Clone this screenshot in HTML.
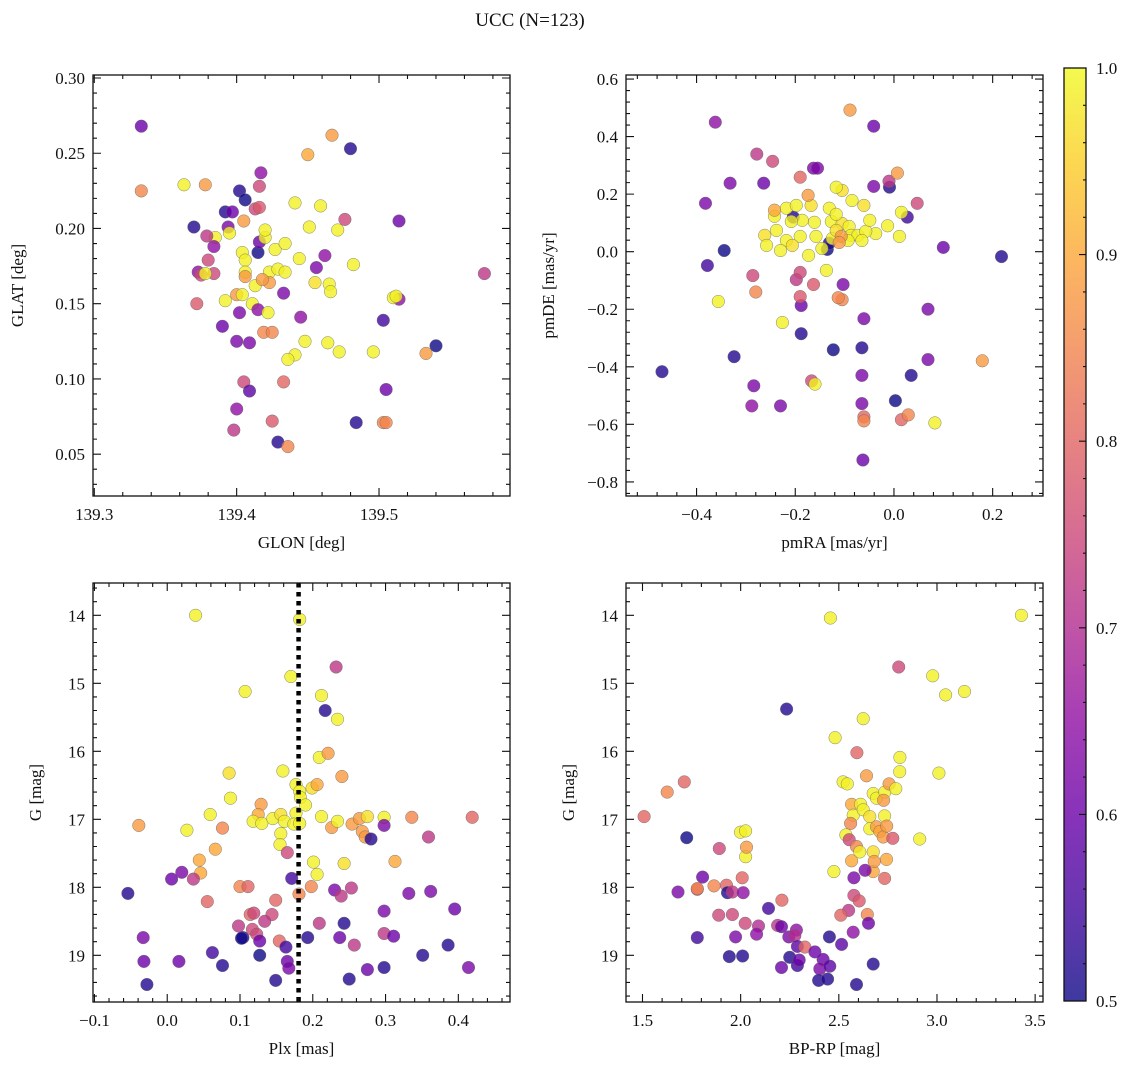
<!DOCTYPE html>
<html><head><meta charset="utf-8"><style>
html,body{margin:0;padding:0;background:#fff;}
svg{display:block;font-family:"Liberation Serif","DejaVu Serif",serif;}
</style></head><body>
<svg id="fig" width="1136" height="1068" viewBox="0 0 1136 1068" xmlns="http://www.w3.org/2000/svg">
<defs><linearGradient id="cbg" x1="0" y1="1" x2="0" y2="0">
<stop offset="0" stop-color="#0d0887"/><stop offset="0.1" stop-color="#41049d"/><stop offset="0.2" stop-color="#6a00a8"/><stop offset="0.3" stop-color="#8f0da4"/><stop offset="0.4" stop-color="#b12a90"/><stop offset="0.5" stop-color="#cc4778"/><stop offset="0.6" stop-color="#e16462"/><stop offset="0.7" stop-color="#f2844b"/><stop offset="0.8" stop-color="#fca636"/><stop offset="0.9" stop-color="#fcce25"/><stop offset="1" stop-color="#f0f921"/>
</linearGradient></defs>
<text x="530" y="26" font-size="19" text-anchor="middle" fill="#111">UCC (N=123)</text>
</svg>
<script>
// ---- Panel 1: GLON vs GLAT ----
const glon=[139.333,139.333,139.363,139.378,139.402,139.406,139.392,139.397,139.370,139.385,
139.394,139.395,139.405,139.413,139.416,139.417,139.416,139.450,139.467,139.480,
139.379,139.380,139.384,139.404,139.406,139.415,139.416,139.420,139.420,139.427,
139.434,139.441,139.451,139.459,139.471,139.462,139.456,139.476,139.482,139.406,
139.406,139.413,139.423,139.429,139.434,139.423,139.418,139.444,139.455,139.465,
139.466,139.373,139.375,139.384,139.378,139.400,139.404,139.411,139.392,139.372,
139.390,139.402,139.415,139.419,139.425,139.433,139.445,139.422,139.448,139.441,
139.436,139.464,139.472,139.496,139.514,139.510,139.512,139.533,139.540,139.574,
139.514,139.505,139.503,139.484,139.503,139.505,139.409,139.400,139.405,139.409,
139.400,139.398,139.425,139.429,139.436,139.433];
const glat=[.268,.225,.229,.229,.225,.219,.211,.211,.201,.194,
.201,.197,.205,.213,.214,.237,.228,.249,.262,.253,
.195,.179,.188,.184,.179,.184,.191,.194,.199,.186,
.190,.217,.201,.215,.199,.182,.174,.206,.176,.171,
.168,.162,.171,.173,.171,.164,.166,.180,.164,.163,
.158,.171,.169,.170,.170,.156,.156,.150,.152,.150,
.135,.144,.146,.131,.131,.157,.141,.144,.125,.116,
.113,.124,.118,.118,.153,.154,.155,.117,.122,.170,
.205,.093,.139,.071,.071,.071,.124,.125,.098,.092,
.080,.066,.072,.058,.055,.098];
const prob1=[.6,.85,.99,.88,.52,.5,.52,.6,.52,.99,
.62,.99,.88,.75,.78,.65,.75,.9,.88,.52,
.72,.75,.65,.99,.99,.5,.6,.99,.99,.99,
.99,.99,.99,.99,.99,.65,.62,.75,.99,.99,
.88,.99,.99,.99,.99,.88,.88,.99,.97,.99,
.99,.65,.75,.75,.99,.88,.99,.99,.99,.78,
.6,.62,.65,.85,.85,.62,.65,.99,.99,.99,
.99,.99,.99,.99,.65,.99,.99,.88,.5,.72,
.6,.6,.55,.52,.85,.85,.62,.62,.75,.58,
.65,.72,.78,.52,.85,.8];
// ---- Panel 2: pmRA vs pmDE ----
const pmra=[-0.362,-0.382,-0.332,-0.264,-0.278,-0.246,-0.089,-0.041,-0.163,-0.155,
-0.19,-0.041,-0.009,-0.01,0.007,0.047,0.027,0.1,0.015,0.011,
-0.013,-0.037,-0.344,-0.378,-0.47,-0.356,-0.324,-0.284,-0.288,-0.23,
-0.226,-0.188,-0.188,-0.123,-0.061,-0.065,-0.065,-0.065,-0.061,-0.061,
-0.063,0.003,0.035,0.015,0.029,0.083,0.069,0.069,0.179,0.218,
-0.105,-0.167,-0.16,-0.286,-0.28,-0.198,-0.19,-0.19,-0.163,-0.135,
-0.103,-0.113,-0.137,-0.204,-0.131,
-0.242,-0.218,-0.198,-0.168,-0.131,-0.127,-0.105,-0.161,-0.186,-0.208,
-0.238,-0.262,-0.258,-0.218,-0.19,-0.158,-0.125,-0.117,-0.091,-0.087,
-0.073,-0.057,-0.049,-0.061,-0.065,-0.093,-0.146,-0.173,-0.206,-0.23,
-0.117,-0.085,-0.105,-0.117,
-0.174,-0.242,-0.107,-0.111];
const pmde=[.45,.168,.238,.238,.339,.314,.492,.436,.29,.29,
.259,.227,.224,.245,.273,.168,.12,.015,.137,.053,
.09,.063,.004,-.048,-.417,-.173,-.365,-.466,-.536,-.536,
-.246,-.285,-.187,-.341,-.233,-.334,-.43,-.528,-.574,-.588,
-.724,-.518,-.43,-.584,-.567,-.595,-.2,-.375,-.379,-.017,
-.167,-.449,-.46,-.083,-.14,-.097,-.156,-.072,-.114,.008,
-.114,-.16,-.065,.12,.03,
.123,.151,.161,.161,.151,.105,.098,.102,.109,.105,
.074,.057,.022,.039,.053,.053,.046,.074,.088,.057,
.057,.071,.109,.161,.039,.039,.011,-.013,.022,.004,
.13,.178,.213,.224,
.196,.144,.053,.032];
const prob2=[.65,.62,.62,.6,.72,.75,.88,.6,.63,.62,
.8,.62,.52,.72,.88,.75,.55,.6,.99,.99,
.99,.99,.5,.55,.52,.99,.52,.62,.65,.62,
.99,.52,.6,.5,.62,.52,.62,.62,.8,.85,
.6,.5,.52,.8,.85,.99,.62,.62,.88,.52,
.85,.75,.99,.75,.85,.72,.78,.75,.78,.5,
.62,.85,.99,.52,.52,
.99,.99,.99,.97,.99,.99,.97,.99,.99,.99,
.99,.97,.99,.99,.99,.99,.99,.97,.99,.99,
.99,.99,.99,.97,.99,.99,.99,.99,.97,.99,
.99,.99,.97,.99,
.88,.9,.88,.88];
// ---- Panel 3: Plx vs G ----
const plx=[0.039,0.182,0.107,0.17,0.232,0.212,0.217,0.234,0.209,0.221,
0.24,0.159,0.085,0.087,0.177,0.182,0.183,0.199,0.206,0.19,
0.129,0.125,0.118,0.13,0.145,0.156,0.161,0.177,0.156,0.155,
0.165,0.174,0.182,0.212,0.226,0.234,0.254,0.264,0.275,0.268,
0.272,0.298,0.298,0.28,0.336,0.313,0.359,0.419,-0.039,0.027,
0.059,0.076,0.066,0.044,0.046,0.036,0.02,0.006,0.055,-0.054,
0.1,0.111,0.114,0.119,0.144,0.134,0.149,0.171,0.181,0.201,
0.206,0.198,0.243,0.23,0.239,0.253,0.298,0.332,0.362,0.395,
0.098,0.104,0.117,0.123,0.127,0.154,0.163,0.165,0.149,0.167,
0.209,0.193,0.243,0.237,0.257,0.25,0.275,0.298,0.311,0.298,
0.351,0.386,0.414,-0.033,-0.032,-0.028,0.016,0.062,0.076,0.102,0.127];
const gmag3=[14.0,14.06,15.12,14.9,14.76,15.18,15.4,15.53,16.09,16.03,
16.37,16.29,16.32,16.69,16.49,16.59,16.68,16.54,16.49,16.79,
16.78,16.93,17.03,17.06,16.99,16.93,17.03,16.91,17.21,17.37,
17.49,17.07,17.06,16.96,17.12,17.03,17.07,16.99,16.96,17.18,
17.26,16.97,17.09,17.29,16.97,17.62,17.26,16.97,17.09,17.16,
16.93,17.13,17.44,17.6,17.79,17.88,17.78,17.88,18.21,18.09,
17.99,17.99,18.4,18.38,18.4,18.5,18.19,17.87,18.1,17.63,
17.81,17.99,17.65,18.04,18.13,18.01,18.35,18.09,18.06,18.32,
18.57,18.74,18.62,18.69,18.79,18.79,18.88,19.09,19.37,19.19,
18.53,18.74,18.53,18.74,18.85,19.35,19.21,18.68,18.72,19.18,
19.0,18.85,19.18,18.74,19.09,19.43,19.09,18.96,19.15,18.75,19.0];
const prob3=[.99,.99,.99,.99,.72,.99,.52,.99,.99,.88,
.88,.99,.97,.99,.99,.99,.99,.97,.9,.99,
.88,.9,.99,.99,.99,.97,.99,.99,.99,.99,
.75,.99,.99,.99,.88,.99,.88,.88,.97,.88,
.88,.99,.62,.52,.85,.9,.72,.8,.88,.99,
.99,.85,.9,.9,.9,.72,.62,.6,.8,.52,
.85,.8,.8,.75,.75,.72,.8,.55,.85,.99,
.99,.85,.97,.62,.72,.72,.62,.62,.62,.6,
.72,.52,.75,.75,.6,.8,.55,.6,.52,.62,
.72,.52,.52,.6,.72,.52,.6,.72,.6,.52,
.52,.52,.62,.62,.6,.52,.6,.55,.52,.5,.5];
// ---- Panel 4: BP-RP vs G ----
const bprp=[1.508,1.626,1.713,1.725,1.681,1.806,1.779,1.779,1.864,1.891,
1.928,1.933,1.958,2.013,2.008,2.025,2.03,1.999,2.025,1.888,
1.958,2.023,2.091,2.081,1.974,1.779,1.942,2.01,2.142,2.21,
2.188,2.208,2.245,2.284,2.276,2.289,2.327,2.378,2.25,2.208,
2.289,2.298,2.42,2.403,2.454,2.397,2.443,2.452,2.514,2.59,
2.675,2.234,2.457,2.481,2.624,2.592,2.641,2.522,2.543,2.565,
2.573,2.611,2.624,2.658,2.675,2.692,2.734,2.756,2.658,2.692,
2.709,2.726,2.56,2.536,2.553,2.59,2.607,2.675,2.565,2.743,
2.475,2.675,2.634,2.577,2.733,2.577,2.604,2.55,2.51,2.645,
2.651,2.573,2.805,2.978,3.044,3.14,3.43,3.01,2.811,2.81,
2.79,2.733,2.744,2.775,2.912,2.68,2.728];
const gmag4=[16.96,16.60,16.45,17.27,18.07,17.85,18.03,18.02,17.98,17.43,
17.97,18.08,18.07,18.08,17.86,17.55,17.41,17.19,17.17,18.41,
18.40,18.53,18.57,18.69,18.73,18.74,19.02,19.01,18.31,18.19,
18.56,18.58,18.73,18.63,18.71,18.87,18.88,18.95,19.03,19.18,
19.15,19.07,19.06,19.2,19.16,19.37,19.35,18.73,18.84,19.43,
19.13,15.38,14.04,15.80,15.52,16.02,16.36,16.45,16.48,16.78,
16.94,16.78,16.86,16.96,16.62,16.69,16.60,16.48,17.14,17.11,
17.18,17.26,17.06,17.23,17.30,17.40,17.48,17.48,17.61,17.59,
17.77,17.77,17.75,17.86,17.87,18.12,18.2,18.34,18.41,18.40,
18.53,18.66,14.76,14.89,15.17,15.12,14.0,16.32,16.09,16.3,
16.55,16.95,17.1,17.28,17.29,17.62,16.72];
const prob4=[.8,.85,.8,.5,.62,.6,.75,.85,.85,.75,
.8,.52,.72,.65,.8,.99,.88,.99,.99,.75,
.75,.75,.7,.65,.62,.55,.52,.52,.55,.8,
.72,.6,.62,.65,.7,.58,.8,.6,.52,.6,
.55,.6,.6,.62,.58,.52,.52,.52,.58,.52,
.52,.52,.99,.99,.99,.8,.88,.99,.99,.9,
.99,.99,.99,.97,.99,.99,.99,.88,.99,.88,
.9,.88,.85,.99,.75,.85,.99,.97,.9,.9,
.99,.9,.62,.62,.8,.75,.78,.72,.8,.85,
.6,.65,.75,.99,.99,.99,.99,.99,.99,.99,
.99,.99,.88,.78,.99,.88,.88];
// tick labels
const p1XTicks=[139.3,139.4,139.5];
const p1YTicks=[0.05,0.10,0.15,0.20,0.25,0.30];
const p2XTicks=[-0.4,-0.2,0.0,0.2];
const p2YTicks=[-0.8,-0.6,-0.4,-0.2,0.0,0.2,0.4,0.6];
const p3XTicks=[-0.1,0.0,0.1,0.2,0.3,0.4];
const gTicks=[14,15,16,17,18,19];
const p4XTicks=[1.5,2.0,2.5,3.0,3.5];
const cbTicks=[0.5,0.6,0.7,0.8,0.9,1.0];
const plxMean=[0.1805];

const NS='http://www.w3.org/2000/svg';
const svg=document.getElementById('fig');
const stops=[[13,8,135],[65,4,157],[106,0,168],[143,13,164],[177,42,144],[204,71,120],[225,100,98],[242,132,75],[252,166,54],[252,206,37],[240,249,33]];
function plasma(p){let t=Math.max(0,Math.min(1,(p-0.5)/0.5))*10;const i=Math.min(9,Math.floor(t)),f=t-i;const a=stops[i],b=stops[i+1];return 'rgb('+a.map((v,k)=>Math.round(v+(b[k]-v)*f)).join(',')+')';}
function el(tag,attrs,parent){const e=document.createElementNS(NS,tag);for(const k in attrs)e.setAttribute(k,attrs[k]);(parent||svg).appendChild(e);return e;}
function fmt(v,d){return (v<0?'\u2212':'')+Math.abs(v).toFixed(d);}

function panel(cfg){
  const g=el('g',{});
  
  
  const sx=v=>cfg.L+(v-cfg.x0)/(cfg.x1-cfg.x0)*(cfg.R-cfg.L);
  const sy=v=>cfg.B-(v-cfg.y0)/(cfg.y1-cfg.y0)*(cfg.B-cfg.T);
  const cg=el('g',{},g);
  
  
  for(let i=0;i<cfg.xs.length;i++){
    const c=el('circle',{cx:sx(cfg.xs[i]).toFixed(1),cy:sy(cfg.ys[i]).toFixed(1),r:6.3,fill:plasma(cfg.ps[i]),'fill-opacity':0.8,stroke:'#666','stroke-width':0.4},cg);
    
    
  }
  if(cfg.vline){for(const v of cfg.vline){const l=el('line',{x1:sx(v),x2:sx(v),y1:cfg.T,y2:cfg.B,stroke:'#000','stroke-width':4.5,'stroke-dasharray':'4.5 4.5'},g);
    
    }}
  const fr=el('rect',{x:cfg.L,y:cfg.T,width:cfg.R-cfg.L,height:cfg.B-cfg.T,fill:'none',stroke:'#111','stroke-width':1.3},g);
  
  
  let path='';
  const lo=Math.min(cfg.x0,cfg.x1),hi=Math.max(cfg.x0,cfg.x1);
  for(let k=Math.ceil(lo/cfg.xm-1e-6);k*cfg.xm<=hi+1e-9;k++){const x=sx(k*cfg.xm);path+=`M${x},${cfg.B}v-4M${x},${cfg.T}v4`;}
  const ylo=Math.min(cfg.y0,cfg.y1),yhi=Math.max(cfg.y0,cfg.y1);
  for(let k=Math.ceil(ylo/cfg.ym-1e-6);k*cfg.ym<=yhi+1e-9;k++){const y=sy(k*cfg.ym);path+=`M${cfg.L},${y}h4M${cfg.R},${y}h-4`;}
  for(const v of cfg.xt){const x=sx(v);path+=`M${x},${cfg.B}v-8M${x},${cfg.T}v8`;
    const t=el('text',{x:x,y:cfg.B+24,'font-size':17,'text-anchor':'middle',fill:'#111'},g);t.textContent=fmt(v,cfg.xd);
    
    }
  for(const v of cfg.yt){const y=sy(v);path+=`M${cfg.L},${y}h8M${cfg.R},${y}h-8`;
    const t=el('text',{x:cfg.L-8,y:y+6,'font-size':17,'text-anchor':'end',fill:'#111'},g);t.textContent=fmt(v,cfg.yd);
    
    }
  const tk=el('path',{d:path,stroke:'#111','stroke-width':1.1,fill:'none'},g);
  
  
  const xl=el('text',{x:(cfg.L+cfg.R)/2,y:cfg.B+52,'font-size':17,'text-anchor':'middle',fill:'#111'},g);xl.textContent=cfg.xlab;
  
  
  const yx=cfg.ylx, yy=(cfg.T+cfg.B)/2;
  const yl=el('text',{x:yx,y:yy,'font-size':17,'text-anchor':'middle',fill:'#111',transform:`rotate(-90 ${yx} ${yy})`},g);yl.textContent=cfg.ylab;
  
  
}
panel({name:'glon-glat-panel',L:93,T:75,R:510,B:496,x0:139.2991,x1:139.592,y0:0.0222,y1:0.302,xs:glon,ys:glat,ps:prob1,xt:p1XTicks,yt:p1YTicks,xd:1,yd:2,xm:0.02,ym:0.01,xlab:'GLON [deg]',ylab:'GLAT [deg]',ylx:23});
panel({name:'pm-panel',L:626,T:75,R:1043,B:496,x0:-0.543,x1:0.302,y0:-0.849,y1:0.614,xs:pmra,ys:pmde,ps:prob2,xt:p2XTicks,yt:p2YTicks,xd:1,yd:1,xm:0.04,ym:0.04,xlab:'pmRA [mas/yr]',ylab:'pmDE [mas/yr]',ylx:554});
panel({name:'plx-g-panel',L:93,T:583,R:510,B:1002,x0:-0.102,x1:0.471,y0:19.687,y1:13.525,xs:plx,ys:gmag3,ps:prob3,xt:p3XTicks,yt:gTicks,xd:1,yd:0,xm:0.02,ym:0.2,xlab:'Plx [mas]',ylab:'G [mag]',ylx:41,vline:plxMean});
panel({name:'cmd-panel',L:626,T:583,R:1043,B:1002,x0:1.416,x1:3.54,y0:19.687,y1:13.525,xs:bprp,ys:gmag4,ps:prob4,xt:p4XTicks,yt:gTicks,xd:1,yd:0,xm:0.1,ym:0.2,xlab:'BP-RP [mag]',ylab:'G [mag]',ylx:574});

// colorbar
const cb=el('g',{});


const CT=68,CB=1001,CL=1064,CR=1086;
el('rect',{x:CL,y:CT,width:CR-CL,height:CB-CT,fill:'url(#cbg)','fill-opacity':0.8},cb);
el('rect',{x:CL,y:CT,width:CR-CL,height:CB-CT,fill:'none',stroke:'#111','stroke-width':1.3},cb);
const cy=v=>CB-(v-0.5)/0.5*(CB-CT);
let cp='';
for(let k=25;k<=50;k++){const y=cy(k*0.02);cp+=`M${CR},${y}h-3`;}
for(const v of cbTicks){const y=cy(v);cp+=`M${CR},${y}h-7`;
  const t=el('text',{x:CR+10,y:y+6,'font-size':17,fill:'#111'},cb);t.textContent=v.toFixed(1);
  
  }
el('path',{d:cp,stroke:'#111','stroke-width':1.1},cb);
</script>
</body></html>
